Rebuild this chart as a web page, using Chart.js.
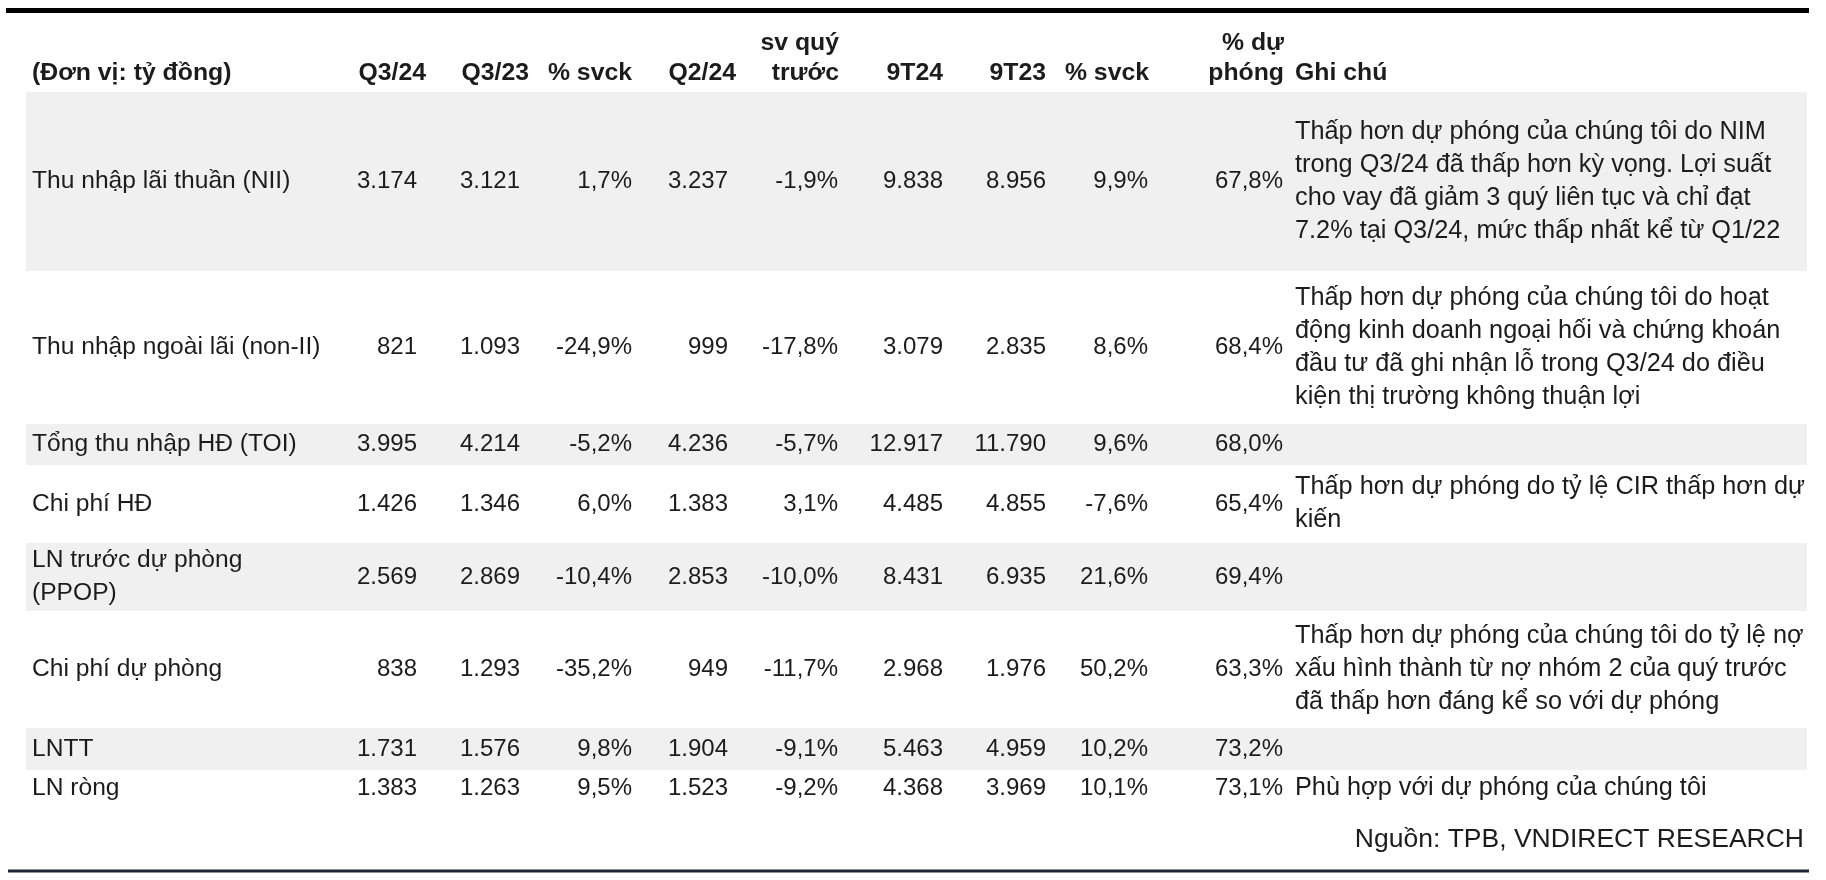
<!DOCTYPE html>
<html lang="vi">
<head>
<meta charset="utf-8">
<title>TPB Q3/24</title>
<script src="https://cdn.jsdelivr.net/npm/chart.js@4.4.1/dist/chart.umd.min.js"></script>
<style>
  html, body { margin: 0; padding: 0; background: #ffffff; }
  #wrap { width: 1826px; height: 880px; position: relative; }
</style>
</head>
<body>
<div id="wrap"><canvas id="c"></canvas></div>
<script>
// ---------------- DATA ----------------
const unitLabel = "(Đơn vị: tỷ đồng)";
const columnHeaders = [["Q3/24"], ["Q3/23"], ["% svck"], ["Q2/24"], ["sv quý", "trước"], ["9T24"], ["9T23"], ["% svck"], ["% dự", "phóng"]];
const notesHeader = "Ghi chú";
const rowLabels = [
  ["Thu nhập lãi thuần (NII)"],
  ["Thu nhập ngoài lãi (non-II)"],
  ["Tổng thu nhập HĐ (TOI)"],
  ["Chi phí HĐ"],
  ["LN trước dự phòng", "(PPOP)"],
  ["Chi phí dự phòng"],
  ["LNTT"],
  ["LN ròng"]
];
const q3_24 = [3174, 821, 3995, 1426, 2569, 838, 1731, 1383];
const q3_23 = [3121, 1093, 4214, 1346, 2869, 1293, 1576, 1263];
const yoyQuarter = [1.7, -24.9, -5.2, 6.0, -10.4, -35.2, 9.8, 9.5];
const q2_24 = [3237, 999, 4236, 1383, 2853, 949, 1904, 1523];
const qoq = [-1.9, -17.8, -5.7, 3.1, -10.0, -11.7, -9.1, -9.2];
const nineM24 = [9838, 3079, 12917, 4485, 8431, 2968, 5463, 4368];
const nineM23 = [8956, 2835, 11790, 4855, 6935, 1976, 4959, 3969];
const yoyNineM = [9.9, 8.6, 9.6, -7.6, 21.6, 50.2, 10.2, 10.1];
const pctOfForecast = [67.8, 68.4, 68.0, 65.4, 69.4, 63.3, 73.2, 73.1];
const notes = [
  ["Thấp hơn dự phóng của chúng tôi do NIM", "trong Q3/24 đã thấp hơn kỳ vọng. Lợi suất", "cho vay đã giảm 3 quý liên tục và chỉ đạt", "7.2% tại Q3/24, mức thấp nhất kể từ Q1/22"],
  ["Thấp hơn dự phóng của chúng tôi do hoạt", "động kinh doanh ngoại hối và chứng khoán", "đầu tư đã ghi nhận lỗ trong Q3/24 do điều", "kiện thị trường không thuận lợi"],
  [],
  ["Thấp hơn dự phóng do tỷ lệ CIR thấp hơn dự", "kiến"],
  [],
  ["Thấp hơn dự phóng của chúng tôi do tỷ lệ nợ", "xấu hình thành từ nợ nhóm 2 của quý trước", "đã thấp hơn đáng kể so với dự phóng"],
  [],
  ["Phù hợp với dự phóng của chúng tôi"]
];
const sourceText = "Nguồn: TPB, VNDIRECT RESEARCH";

// ---------------- LAYOUT (scale units) ----------------
const rowEdges = [92, 271, 424, 465, 543, 611, 728, 770, 806];
const shadedRows = [true, false, true, false, true, false, true, false];
const bandLeft = 26, bandRight = 1807;
const labelX = 32;
const headerRight = [426, 529, 632, 736, 839, 943, 1046, 1149, 1284];
const valueRight  = [417, 520, 632, 728, 838, 943, 1046, 1148, 1283];
const notesX = 1295;
const headerLine1Y = 43, headerLine2Y = 73;
const lineStep = 33;
const sourceRight = 1804, sourceY = 840;

const FONT = '"Liberation Sans", Arial, sans-serif';
const labelFont = '24.6px ' + FONT;
const numFont = '24px ' + FONT;
const noteFont = '25.3px ' + FONT;
const headFont = 'bold 24.8px ' + FONT;
const srcFont = '26.5px ' + FONT;
const textColor = '#1c1c1c';
const bandColor = '#f0f0f0';

function fmtInt(v) {
  const s = String(Math.abs(Math.round(v)));
  const out = s.replace(/\B(?=(\d{3})+(?!\d))/g, '.');
  return (v < 0 ? '-' : '') + out;
}
function fmtPct(v) {
  return (v < 0 ? '-' : '') + Math.abs(v).toFixed(1).replace('.', ',') + '%';
}

const columns = [
  q3_24.map(fmtInt), q3_23.map(fmtInt), yoyQuarter.map(fmtPct),
  q2_24.map(fmtInt), qoq.map(fmtPct), nineM24.map(fmtInt),
  nineM23.map(fmtInt), yoyNineM.map(fmtPct), pctOfForecast.map(fmtPct)
];

const tablePlugin = {
  id: 'tablePlugin',
  beforeDatasetsDraw(chart) {
    const { ctx, scales: { x, y } } = chart;
    ctx.save();
    // shaded bands
    ctx.fillStyle = bandColor;
    rowEdges.slice(0, -1).forEach((top, i) => {
      if (!shadedRows[i]) return;
      const py0 = y.getPixelForValue(top), py1 = y.getPixelForValue(rowEdges[i + 1]);
      const px0 = x.getPixelForValue(bandLeft), px1 = x.getPixelForValue(bandRight);
      ctx.fillRect(px0, py0, px1 - px0, py1 - py0);
    });
    ctx.fillStyle = textColor;
    ctx.textBaseline = 'middle';
    // header
    ctx.font = headFont;
    ctx.textAlign = 'left';
    ctx.fillText(unitLabel, x.getPixelForValue(labelX), y.getPixelForValue(headerLine2Y));
    ctx.fillText(notesHeader, x.getPixelForValue(notesX), y.getPixelForValue(headerLine2Y));
    ctx.textAlign = 'right';
    columnHeaders.forEach((lines, c) => {
      const ys = lines.length === 2 ? [headerLine1Y, headerLine2Y] : [headerLine2Y];
      lines.forEach((t, k) => ctx.fillText(t, x.getPixelForValue(headerRight[c]), y.getPixelForValue(ys[k])));
    });
    // body
    rowLabels.forEach((lines, i) => {
      const mid = (rowEdges[i] + rowEdges[i + 1]) / 2;
      ctx.font = labelFont;
      ctx.textAlign = 'left';
      const n = lines.length;
      lines.forEach((t, k) => {
        const yy = mid + (k - (n - 1) / 2) * lineStep;
        ctx.fillText(t, x.getPixelForValue(labelX), y.getPixelForValue(yy));
      });
      ctx.font = numFont;
      ctx.textAlign = 'right';
      columns.forEach((col, c) => {
        ctx.fillText(col[i], x.getPixelForValue(valueRight[c]), y.getPixelForValue(mid));
      });
      ctx.font = noteFont;
      ctx.textAlign = 'left';
      const nl = notes[i].length;
      notes[i].forEach((t, k) => {
        const yy = mid + (k - (nl - 1) / 2) * lineStep;
        ctx.fillText(t, x.getPixelForValue(notesX), y.getPixelForValue(yy));
      });
    });
    // source
    ctx.font = srcFont;
    ctx.textAlign = 'right';
    ctx.fillText(sourceText, x.getPixelForValue(sourceRight), y.getPixelForValue(sourceY));
    ctx.restore();
  }
};

new Chart(document.getElementById('c'), {
  type: 'scatter',
  data: {
    datasets: [
      { label: 'top rule', data: [{ x: 6, y: 10.5 }, { x: 1809, y: 10.5 }], showLine: true, borderColor: '#000000', borderWidth: 5, pointRadius: 0 },
      { label: 'bottom rule', data: [{ x: 8, y: 871 }, { x: 1809, y: 871 }], showLine: true, borderColor: '#1e2633', borderWidth: 3, pointRadius: 0 }
    ]
  },
  options: {
    responsive: true,
    maintainAspectRatio: false,
    animation: false,
    layout: { padding: 0 },
    plugins: { legend: { display: false }, tooltip: { enabled: false } },
    scales: {
      x: { type: 'linear', min: 0, max: 1826, display: false },
      y: { type: 'linear', min: 0, max: 880, reverse: true, display: false }
    }
  },
  plugins: [tablePlugin]
});
</script>
</body>
</html>
